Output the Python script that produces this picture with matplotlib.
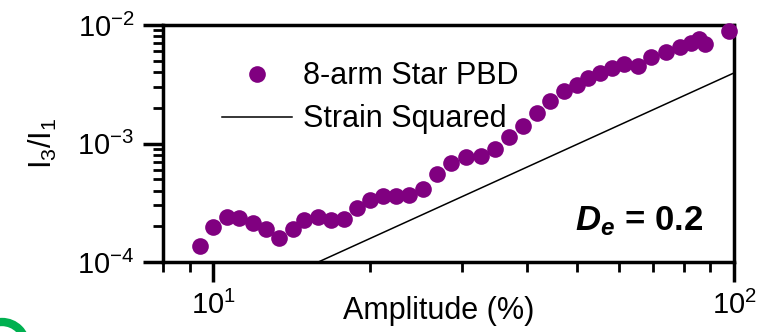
import numpy as np
import matplotlib
matplotlib.use("Agg")
import matplotlib.pyplot as plt
from matplotlib.patches import Circle
from matplotlib.transforms import IdentityTransform

plt.rcParams['font.family'] = ['Liberation Sans', 'DejaVu Sans']
plt.rcParams['mathtext.fontset'] = 'custom'
plt.rcParams['mathtext.rm'] = 'Liberation Sans'
plt.rcParams['mathtext.it'] = 'Liberation Sans:italic'
plt.rcParams['mathtext.bf'] = 'Liberation Sans:bold'
plt.rcParams['mathtext.bfit'] = 'Liberation Sans:italic:bold'
plt.rcParams['axes.unicode_minus'] = False

# 8-arm star PBD, I3/I1 vs strain amplitude (%)
amplitude = [9.43, 10.0, 10.6, 11.2, 11.9, 12.6, 13.35, 14.2, 14.9, 15.9,
             16.8, 17.8, 18.9, 19.95, 21.2, 22.4, 23.8, 25.3, 26.9, 28.6,
             30.5, 32.6, 34.7, 36.9, 39.4, 41.8, 44.4, 47.1, 49.9, 52.5,
             55.2, 58.2, 61.5, 65.3, 69.4, 73.9, 78.7, 82.8, 85.5, 88.1, 98.0]
ratio = [1.37e-4, 1.99e-4, 2.41e-4, 2.34e-4, 2.12e-4, 1.91e-4, 1.60e-4, 1.90e-4,
         2.26e-4, 2.39e-4, 2.25e-4, 2.29e-4, 2.86e-4, 3.36e-4, 3.58e-4, 3.64e-4,
         3.66e-4, 4.13e-4, 5.51e-4, 6.85e-4, 7.65e-4, 7.85e-4, 8.99e-4, 1.14e-3,
         1.41e-3, 1.80e-3, 2.30e-3, 2.79e-3, 3.13e-3, 3.59e-3, 3.91e-3, 4.36e-3,
         4.69e-3, 4.54e-3, 5.34e-3, 5.95e-3, 6.56e-3, 7.01e-3, 7.62e-3, 6.89e-3,
         8.85e-3]

# strain squared reference line (end points)
line_x = [15.9, 100]
line_y = [1.0e-4, 3.94e-3]

fig = plt.figure(figsize=(7.83, 3.32), dpi=100)
ax = fig.add_axes([0.2082, 0.2108, 0.7292, 0.7139])

ax.plot(amplitude, ratio, 'o', color='purple', ms=12, mec='none',
        label='8-arm Star PBD', clip_on=False, zorder=3)
ax.plot(line_x, line_y, '-', color='black', lw=1.1, label='Strain Squared')

ax.set_xscale('log')
ax.set_yscale('log')
ax.set_xlim(8, 100)
ax.set_ylim(1e-4, 1e-2)

for s in ['top', 'right', 'left', 'bottom']:
    ax.spines[s].set_linewidth(2.5)
ax.tick_params(which='major', direction='out', length=14.5, width=2.5,
               labelsize=21, pad=6)
ax.tick_params(which='minor', direction='out', length=7.5, width=2)
ax.tick_params(axis='x', which='minor', labelbottom=False)

ax.set_xlabel('Amplitude (%)', fontsize=22, va='center')
ax.xaxis.set_label_coords(0.482, -0.207)
ax.set_ylabel(r'$\mathregular{I_3/I_1}$', fontsize=22, va='center')
ax.yaxis.set_label_coords(-0.21, 0.5)

ax.text(0.946, 0.135, r'$\mathbfit{D}_{\mathbfit{e}}$ = 0.2', transform=ax.transAxes,
        ha='right', va='baseline', fontsize=25, fontweight='bold')

ax.legend(loc='upper left', bbox_to_anchor=(0.103, 0.847), frameon=False,
          fontsize=22, handlelength=2.3, handletextpad=0.36, labelspacing=0.43,
          borderpad=0, borderaxespad=0)

# green arc at the lower left corner of the picture
fig.patches.append(Circle((2, -14), 24, fill=False, ec='#00b050', lw=6,
                          transform=IdentityTransform(), figure=fig))

fig.savefig('out.png', dpi=100)
